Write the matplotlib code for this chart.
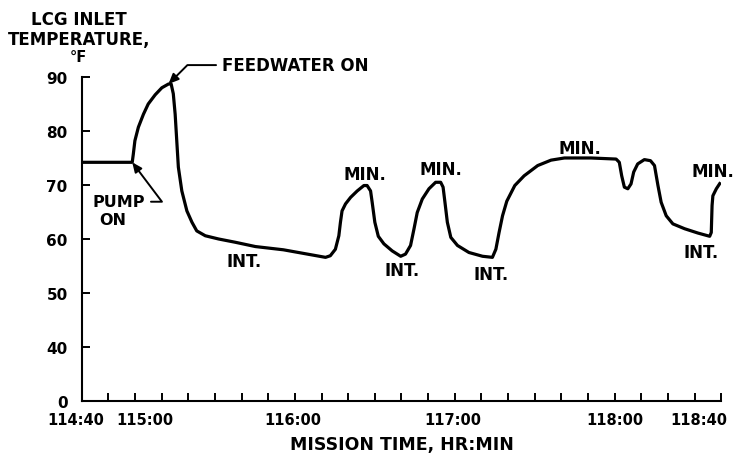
import numpy as np
import matplotlib
matplotlib.use("Agg")
import matplotlib.pyplot as plt

# minutes after 114:40 mission time, LCG inlet temperature (deg F)
t_min = [0, 19.0, 19.4, 20.0, 21.3, 23.2, 25.0, 27.6, 30.1, 32.6, 33.6,
         34.4, 35.1, 35.7, 36.3, 37.6, 39.5, 41.4, 43.2, 46.4, 51.4, 57.6,
         65.2, 75.7, 91.5, 93.3, 95.2, 96.5, 97.1, 97.7, 99.0, 100.9, 103.4,
         105.9, 107.1, 108.4, 109.0, 110.0, 111.3, 113.4, 116.5, 119.7, 121.5,
         123.4, 124.7, 125.9, 127.8, 130.3, 132.8, 134.7, 135.6, 136.3, 137.2,
         138.5, 141.0, 145.3, 150.4, 154.1, 155.4, 156.6, 157.9, 159.5, 162.5,
         166.0, 171.1, 176.1, 181.1, 191.1, 200.5, 201.7, 202.6, 203.6, 204.9,
         206.1, 207.1, 208.6, 211.1, 213.4, 214.9, 216.2, 217.4, 219.3, 221.8,
         226.2, 231.2, 235.6, 236.2, 236.5, 236.8, 238.1, 239.7]
temp_f = [74.2, 74.2, 75.7, 78.2, 80.7, 83.1, 85.0, 86.7, 88.0, 88.7, 88.7,
          86.9, 83.1, 78.2, 73.3, 68.9, 65.2, 63.1, 61.5, 60.6, 60.0, 59.4,
          58.6, 58.0, 56.6, 56.9, 58.1, 60.6, 63.1, 65.2, 66.5, 67.7, 68.9,
          69.9, 69.9, 68.9, 66.8, 63.1, 60.5, 59.1, 57.8, 56.8, 57.2, 58.8,
          61.9, 64.9, 67.4, 69.3, 70.5, 70.5, 69.6, 66.8, 63.1, 60.3, 58.8,
          57.5, 56.8, 56.6, 58.1, 61.2, 64.3, 67.0, 69.9, 71.7, 73.6, 74.6,
          75.0, 75.0, 74.8, 74.2, 71.7, 69.6, 69.3, 70.2, 72.4, 73.9, 74.7,
          74.5, 73.6, 69.9, 66.8, 64.3, 62.8, 61.9, 61.1, 60.5, 61.2, 66.2,
          68.0, 69.3, 70.5]

tick_min = np.arange(0, 241, 10)
label_min = [0, 20, 80, 140, 200, 240]
label_txt = ["114:40", "115:00", "116:00", "117:00", "118:00", "118:40"]
label_shift = [-4, 7, -1.5, -1.5, 0, -16]  # points

# y axis is broken: the "0" sits where 30 would be
y_ticks = [30, 40, 50, 60, 70, 80, 90]
y_labels = ["0", "40", "50", "60", "70", "80", "90"]

# curve labels (minute, temperature, text)
notes_t = [61.0, 106.1, 120.1, 134.9, 153.5, 187.0, 232.4, 237.0]
notes_y = [55.9, 72.0, 54.2, 73.0, 53.5, 76.9, 57.5, 72.5]
notes_s = ["INT.", "MIN.", "INT.", "MIN.", "INT.", "MIN.", "INT.", "MIN."]

plt.rcParams["font.family"] = ["DejaVu Sans"]
plt.rcParams["font.weight"] = "bold"

fig = plt.figure(figsize=(7.35, 4.56), dpi=100)
ax = fig.add_axes([0.111, 0.1184, 0.8705, 0.7106])

ax.plot(t_min, temp_f, color="black", lw=2.3, solid_joinstyle="round",
        solid_capstyle="butt")

ax.set_xlim(0, 240)
ax.set_ylim(30, 90)
for s in ["top", "right"]:
    ax.spines[s].set_visible(False)
for s in ["left", "bottom"]:
    ax.spines[s].set_linewidth(1.5)

ax.set_xticks(tick_min)
ax.set_xticklabels([])
ax.tick_params(axis="x", direction="in", length=6, width=1.4)
ax.set_yticks(y_ticks)
ax.set_yticklabels(y_labels, fontsize=11, fontweight="bold")
ax.tick_params(axis="y", direction="in", length=6, width=1.4, pad=10)
ax.get_yticklines()[0].set_visible(False)

for m, txt, dx in zip(label_min, label_txt, label_shift):
    ax.annotate(txt, xy=(m, 30), xycoords="data", xytext=(dx, -13),
                textcoords="offset points", ha="center", va="center",
                fontsize=10.5, fontweight="bold", annotation_clip=False)

ax.text(0.5, -0.133, "MISSION TIME, HR:MIN", transform=ax.transAxes,
        ha="center", va="center", fontsize=12.5, fontweight="bold")
fig.text(0.107, 0.956, "LCG INLET", ha="center", va="center",
         fontsize=12, fontweight="bold")
fig.text(0.107, 0.912, "TEMPERATURE,", ha="center", va="center",
         fontsize=12, fontweight="bold")
fig.text(0.107, 0.873, "\u00b0F", ha="center", va="center",
         fontsize=10.5, fontweight="bold")

for tx, ty, s in zip(notes_t, notes_y, notes_s):
    ax.text(tx, ty, s, ha="center", va="center", fontsize=12,
            fontweight="bold", clip_on=False)

arrow = dict(arrowstyle="-|>,head_length=0.5,head_width=0.22", color="black",
             lw=1.4, shrinkA=2, shrinkB=0)

# feedwater on: at the peak
ipk = int(np.argmax(temp_f))
ax.annotate("FEEDWATER ON", xy=(t_min[ipk], temp_f[ipk]), xytext=(80.0, 92.2),
            ha="center", va="center", fontsize=12, fontweight="bold",
            annotation_clip=False,
            arrowprops=dict(arrow, connectionstyle="angle,angleA=180,angleB=45,rad=0"))

# pump on: end of flat section
ax.annotate("PUMP", xy=(t_min[1], temp_f[1]), xytext=(14.1, 66.9),
            ha="center", va="center", fontsize=11.5, fontweight="bold",
            arrowprops=dict(arrow, connectionstyle="angle,angleA=0,angleB=-53,rad=0"))
ax.text(11.8, 63.7, "ON", ha="center", va="center", fontsize=11.5,
        fontweight="bold")

fig.savefig("out.png", dpi=100)
